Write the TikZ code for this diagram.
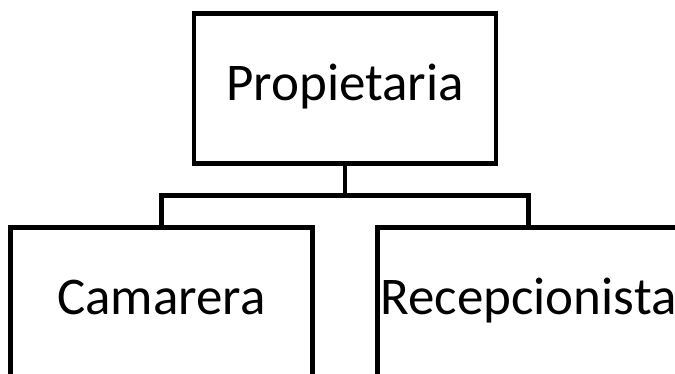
\documentclass[tikz,border=0pt]{standalone}
\usepackage{fontspec}
\setmainfont{Carlito}
\begin{document}
\begin{tikzpicture}[x=1pt,y=1pt,
  box/.style={draw=black, line width=4.8pt, fill=white, minimum width=302pt, minimum height=150pt,
    inner sep=0pt, font=\fontsize{53}{62}\selectfont, text height=34pt, text depth=10pt},
  link/.style={draw=black, line width=4.8pt}]
\useasboundingbox (0,0) rectangle (675,-374);
\clip (0,0) rectangle (675,-374);
\node[box] (top) at (345,-88.5) {Propietaria};
\node[box] (left) at (161.5,-302.5) {Camarera};
\node[box] (right) at (528.5,-302.5) {Recepcionista};
\coordinate (bar) at (345,-195.5);
\draw[link] (top.south) -- (bar);
\draw[link] (bar) -| (left.north);
\draw[link] (bar) -| (right.north);
\end{tikzpicture}
\end{document}
